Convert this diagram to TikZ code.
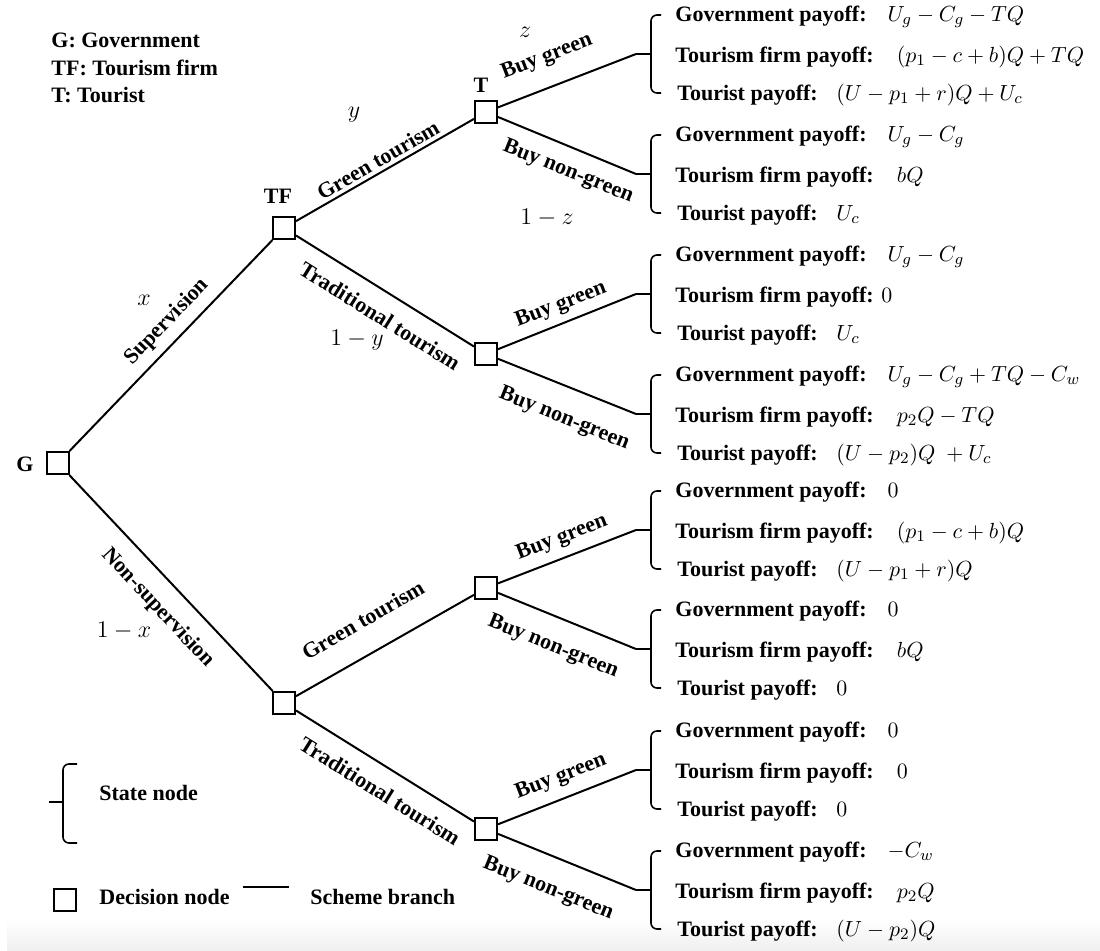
\documentclass[tikz,border=0pt]{standalone}
\usepackage{fontspec}
\setmainfont{Liberation Serif}
\begin{document}
\begin{tikzpicture}[x=0.5pt,y=-0.5pt,
    dec/.style={draw,line width=1pt,minimum size=11pt,inner sep=0pt},
    lbl/.style={font=\fontsize{11}{13}\selectfont\bfseries,inner sep=1pt},
    prob/.style={font=\fontsize{13}{15}\selectfont,inner sep=1pt},
    pay/.style={lbl,anchor=mid west},
    branch/.style={line width=1pt},
    brace/.style={line width=0.8pt,rounded corners=3pt}]
  \useasboundingbox (0,0) rectangle (1100,950);
  \shade[top color=white,bottom color=black!6] (7,918) rectangle (1100,950);

  \node[dec] (G) at (58,463) {};
  \node[dec] (TFs) at (284,228) {};
  \node[dec] (TFn) at (284,703) {};
  \node[dec] (T1) at (486,112) {};
  \node[dec] (T2) at (486,354) {};
  \node[dec] (T3) at (486,588) {};
  \node[dec] (T4) at (486,829) {};
  \node[lbl] (Glab) at (25,464) {G};
  \node[lbl] (TFlab) at (278,196) {TF};
  \node[lbl] (Tlab) at (481,85) {T};

  \foreach \k/\gy/\ug/\uf/\ut in {
      1/17/{$U_g-C_g-TQ$}/{$(p_1-c+b)Q+TQ$}/{$(U-p_1+r)Q+U_c$},
      2/137/{$U_g-C_g$}/{$bQ$}/{$U_c$},
      3/257/{$U_g-C_g$}/{\hspace{-0.7em}$0$}/{$U_c$},
      4/377/{$U_g-C_g+TQ-C_w$}/{$p_2Q-TQ$}/{$(U-p_2)Q\;+U_c$},
      5/493/{$0$}/{$(p_1-c+b)Q$}/{$(U-p_1+r)Q$},
      6/612/{$0$}/{$bQ$}/{$0$},
      7/733/{$0$}/{$0$}/{$0$},
      8/853/{$-C_w$}/{$p_2Q$}/{$(U-p_2)Q$}}
  {
    \coordinate (tip\k) at (636,\gy+37);
    \draw[brace] (661,\gy-2) -- (651,\gy-2) -- (651,\gy+76) -- (661,\gy+76);
    \draw[brace] (651,\gy+37) -- (tip\k);
    \node[pay] (gov\k) at (673,\gy) {Government payoff:\ \hspace{0.7em}\ug};
    \node[pay] (firm\k) at (673,\gy+41) {Tourism firm payoff:\ \hspace{0.8em}\uf};
    \node[pay] (tou\k) at (675,\gy+79) {Tourist payoff:\ \hspace{0.6em}\ut};
  }

  \draw[branch] (G) -- (TFs);
  \draw[branch] (G) -- (TFn);
  \draw[branch] (TFs) -- (T1);
  \draw[branch] (TFs) -- (T2);
  \draw[branch] (TFn) -- (T3);
  \draw[branch] (TFn) -- (T4);
  \draw[branch] (T1) -- (tip1);
  \draw[branch] (T1) -- (tip2);
  \draw[branch] (T2) -- (tip3);
  \draw[branch] (T2) -- (tip4);
  \draw[branch] (T3) -- (tip5);
  \draw[branch] (T3) -- (tip6);
  \draw[branch] (T4) -- (tip7);
  \draw[branch] (T4) -- (tip8);

  \node[lbl,rotate=46] (sup) at (167,322) {Supervision};
  \node[prob] (px) at (144,300) {$x$};
  \node[lbl,rotate=-47] (nonsup) at (158,608) {Non-supervision};
  \node[prob] (p1x) at (124,631) {$1-x$};
  \node[lbl,rotate=30] (gts) at (378,160) {Green tourism};
  \node[prob] (py) at (354,115) {$y$};
  \node[lbl,rotate=-32] (tts) at (380,316) {Traditional tourism};
  \node[prob] (p1y) at (357,340) {$1-y$};
  \node[lbl,rotate=30] (gtn) at (363,620) {Green tourism};
  \node[lbl,rotate=-32] (ttn) at (380,791) {Traditional tourism};
  \node[lbl,rotate=21] (bg1) at (547,57) {Buy green};
  \node[prob] (pz) at (525,32) {$z$};
  \node[lbl,rotate=-22] (bn1) at (568,172) {Buy non-green};
  \node[prob] (p1z) at (547,218) {$1-z$};
  \node[lbl,rotate=21] (bg2) at (561,305) {Buy green};
  \node[lbl,rotate=-22] (bn2) at (564,419) {Buy non-green};
  \node[lbl,rotate=21] (bg3) at (562,538) {Buy green};
  \node[lbl,rotate=-22] (bn3) at (553,647) {Buy non-green};
  \node[lbl,rotate=21] (bg4) at (561,777) {Buy green};
  \node[lbl,rotate=-22] (bn4) at (548,889) {Buy non-green};

  \node[pay] (legG) at (49,43) {G: Government};
  \node[pay] (legTF) at (49,71) {TF: Tourism firm};
  \node[pay] (legT) at (49,98) {T: Tourist};
  \draw[brace] (77,764) -- (63,764) -- (63,843) -- (77,843);
  \draw[brace] (63,802) -- (49,802);
  \node[pay] (state) at (97,796) {State node};
  \node[dec] (decbox) at (65,900) {};
  \node[pay] (declab) at (97,900) {Decision node};
  \coordinate (sb1) at (243,887);
  \coordinate (sb2) at (289,887);
  \draw[branch] (sb1) -- (sb2);
  \node[pay] (sblab) at (308,900) {Scheme branch};
\end{tikzpicture}
\end{document}
